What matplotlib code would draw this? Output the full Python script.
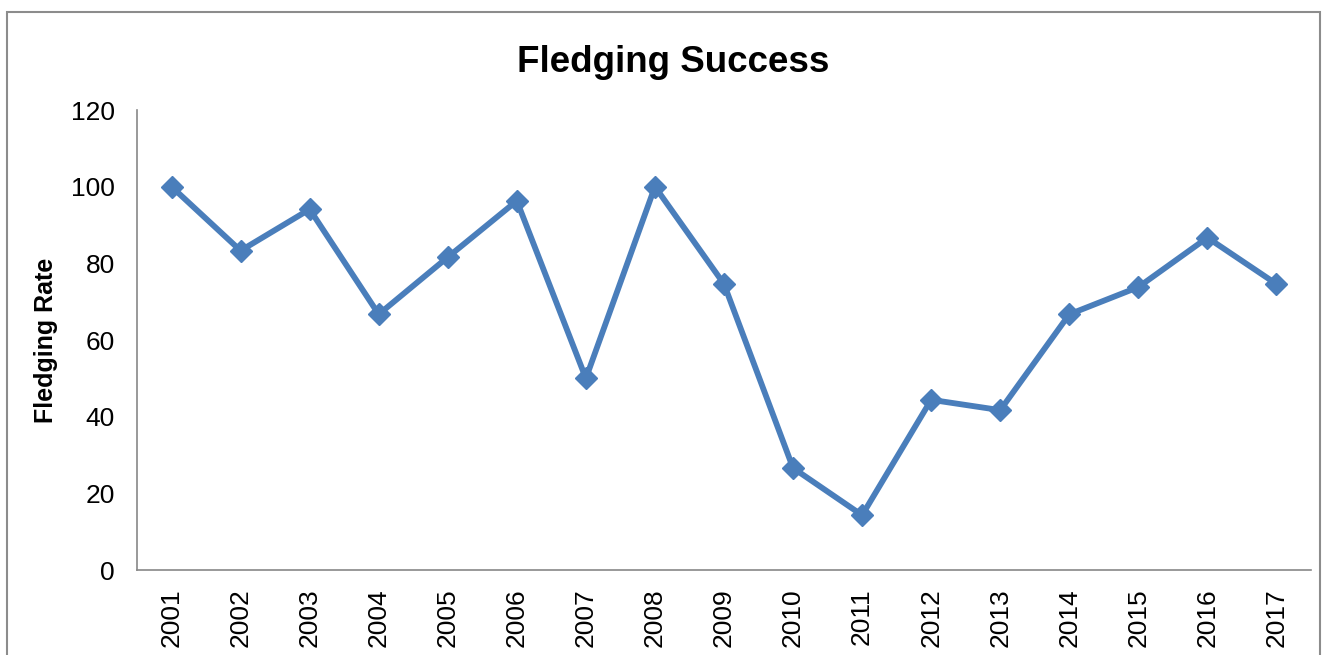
"""Fledging success line chart (Excel style)"""

import matplotlib
matplotlib.use('Agg')
import matplotlib.pyplot as plt
from matplotlib.patches import Rectangle

years = [str(y) for y in range(2001, 2018)]
fledging_rate = [100, 83.3, 94.1, 66.7, 81.6, 96.3, 50, 100, 74.6,
                 26.6, 14.3, 44.4, 41.7, 66.7, 73.8, 86.7, 74.6]
y_ticks = [0, 20, 40, 60, 80, 100, 120]

LINE_COLOR = '#4A7EBB'
SPINE_COLOR = '#888888'

plt.rcParams['font.family'] = ['Liberation Sans', 'DejaVu Sans']

fig = plt.figure(figsize=(13.28, 6.55), dpi=100)
ax_w = (1311 - 137) / 1328
ax = fig.add_axes([137 / 1328, 1 - 570 / 655, ax_w, (570 - 110) / 655])

x = list(range(len(years)))
ax.plot(x, fledging_rate, color=LINE_COLOR, linewidth=4.2, marker='D',
        markersize=11, markeredgecolor=LINE_COLOR, markerfacecolor=LINE_COLOR)

ax.set_xlim(-0.5, len(years) - 0.5)
ax.set_ylim(0, 120)
ax.set_yticks(y_ticks)
ax.set_xticks(x)
ax.set_xticklabels(years, rotation=90)
ax.tick_params(axis='both', length=0, labelsize=19)
ax.tick_params(axis='y', pad=16)
ax.tick_params(axis='x', pad=13)

for side in ['top', 'right']:
    ax.spines[side].set_visible(False)
for side in ['left', 'bottom']:
    ax.spines[side].set_color(SPINE_COLOR)
    ax.spines[side].set_linewidth(1.2)

ax.set_ylabel('Fledging Rate', fontsize=18, fontweight='bold')
ax.yaxis.set_label_coords((58 - 137) / 1174, 0.5)

fig.text(673 / 1328, 1 - 62 / 655, 'Fledging Success', ha='center', va='center',
         fontsize=26.5, fontweight='bold')

# рамка области диаграммы
fig.patches.append(Rectangle((7 / 1328, -0.1), (1320 - 7) / 1328, 1.1 - 12 / 655,
                             transform=fig.transFigure, fill=False,
                             edgecolor='#8c8c8c', linewidth=1.5))

fig.savefig('out.png', dpi=100, facecolor='white')
